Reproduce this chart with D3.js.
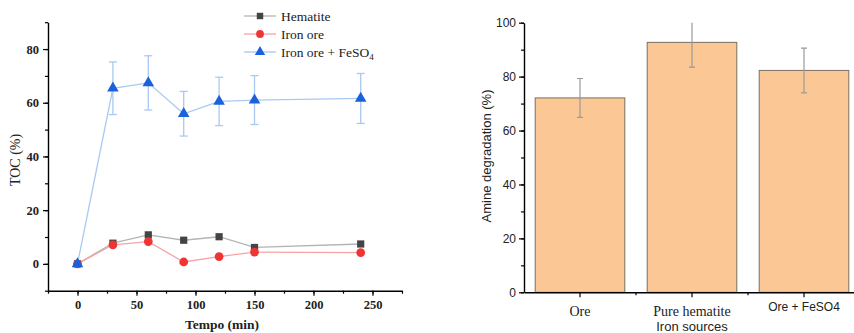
<!DOCTYPE html>
<html>
<head>
<meta charset="utf-8">
<script src="https://cdn.jsdelivr.net/npm/d3@7"></script>
<style>
  body { margin: 0; background: #fff; }
  svg { display: block; }
  .serif { font-family: 'Liberation Serif', 'Times New Roman', serif; }
  .sans { font-family: 'Liberation Sans', Arial, sans-serif; }
</style>
</head>
<body>
<div id="canvas"></div>
<script>
// data - left chart (TOC vs time)
var times = [0, 30, 60, 90, 120, 150, 240];
var hematite = [0, 7.7, 10.8, 8.8, 10.1, 6.1, 7.4];
var ironOre = [0, 7.1, 8.3, 0.7, 2.7, 4.4, 4.2];
var ironOreFeSO4 = [0, 65.4, 67.4, 55.9, 60.5, 61.0, 61.6];
var ironOreFeSO4Err = [0, 9.8, 10.1, 8.3, 9.0, 9.1, 9.3];
var tocTicks = [0, 20, 40, 60, 80];
var timeTicks = [0, 50, 100, 150, 200, 250];

// data - right chart (amine degradation)
var sources = ['Ore', 'Pure hematite', 'Ore + FeSO4'];
var degradation = [72.1, 92.7, 82.3];
var degradationErr = [7.2, 9.2, 8.3];
var degTicks = [0, 20, 40, 60, 80, 100];

var W = 854, H = 333;

var svg = d3.select('#canvas')
    .append('svg')
    .attr('width', W)
    .attr('height', H);

// ---------- left chart ----------
var x1 = d3.scaleLinear().domain([-25, 275]).range([48, 402]);
var y1 = d3.scaleLinear().domain([-10, 90]).range([290.7, 22.2]);

var left = svg.append('g');

// minor ticks
left.append('g')
    .attr('transform', 'translate(0,' + y1(-10) + ')')
    .call(d3.axisBottom(x1).tickValues(d3.range(-25, 276, 25)).tickSize(3).tickFormat(''))
    .call(g => g.select('.domain').remove());
left.append('g')
    .attr('transform', 'translate(' + x1(-25) + ',0)')
    .call(d3.axisLeft(y1).tickValues(d3.range(-10, 91, 10)).tickSize(3).tickFormat(''))
    .call(g => g.select('.domain').remove());

left.append('g')
    .attr('transform', 'translate(0,' + y1(-10) + ')')
    .call(d3.axisBottom(x1).tickValues(timeTicks).tickSize(5).tickPadding(4).tickSizeOuter(0));
left.append('g')
    .attr('transform', 'translate(' + x1(-25) + ',0)')
    .call(d3.axisLeft(y1).tickValues(tocTicks).tickSize(5).tickPadding(4).tickSizeOuter(0));

left.selectAll('g').attr('font-family', null).attr('font-size', null);
left.selectAll('.domain').attr('stroke', '#000').attr('stroke-width', 1.4);
left.selectAll('.tick line').attr('stroke', '#000').attr('stroke-width', 1.2);
left.selectAll('.tick text')
    .attr('class', 'serif')
    .attr('font-size', 12.5)
    .attr('font-weight', 'bold')
    .attr('fill', '#222');

left.append('text')
    .attr('class', 'serif')
    .attr('x', (x1(-25) + x1(275)) / 2 - 3)
    .attr('y', 329)
    .attr('text-anchor', 'middle')
    .attr('font-size', 13.5)
    .attr('font-weight', 'bold')
    .attr('fill', '#222')
    .text('Tempo (min)');

left.append('text')
    .attr('class', 'serif')
    .attr('transform', 'translate(20,160) rotate(-90)')
    .attr('text-anchor', 'middle')
    .attr('font-size', 14)
    .attr('fill', '#222')
    .text('TOC (%)');

var series = [
    {name: 'Hematite', values: hematite, err: null, line: '#b4b4b4', color: '#444444', shape: d3.symbolSquare, size: 52},
    {name: 'Iron ore', values: ironOre, err: null, line: '#f7a3a3', color: '#f03434', shape: d3.symbolCircle, size: 60},
    {name: 'Iron ore + FeSO4', values: ironOreFeSO4, err: ironOreFeSO4Err, line: '#a9c8f2', color: '#1a62dc', shape: d3.symbolTriangle, size: 58}
];

var line = d3.line()
    .x(function(d, i) { return x1(times[i]); })
    .y(function(d) { return y1(d); });

series.forEach(function(s) {
    if (s.err) {
        var eb = left.append('g');
        s.values.forEach(function(v, i) {
            if (!s.err[i]) return;
            var cx = x1(times[i]);
            eb.append('line').attr('x1', cx).attr('x2', cx)
                .attr('y1', y1(v - s.err[i])).attr('y2', y1(v + s.err[i]));
            eb.append('line').attr('x1', cx - 4).attr('x2', cx + 4)
                .attr('y1', y1(v - s.err[i])).attr('y2', y1(v - s.err[i]));
            eb.append('line').attr('x1', cx - 4).attr('x2', cx + 4)
                .attr('y1', y1(v + s.err[i])).attr('y2', y1(v + s.err[i]));
        });
        eb.selectAll('line').attr('stroke', s.line).attr('stroke-width', 1.3);
    }
    left.append('path')
        .datum(s.values)
        .attr('d', line)
        .attr('fill', 'none')
        .attr('stroke', s.line)
        .attr('stroke-width', 1.3);
});
series.forEach(function(s) {
    left.selectAll(null)
        .data(s.values)
        .enter()
        .append('path')
        .attr('transform', function(d, i) { return 'translate(' + x1(times[i]) + ',' + y1(d) + ')'; })
        .attr('d', d3.symbol().type(s.shape).size(s.size))
        .attr('fill', s.color);
});

// legend
var legend = left.append('g');
series.forEach(function(s, i) {
    var ly = 16 + i * 18;
    legend.append('line')
        .attr('x1', 244).attr('x2', 276)
        .attr('y1', ly).attr('y2', ly)
        .attr('stroke', s.line).attr('stroke-width', 1.3);
    legend.append('path')
        .attr('transform', 'translate(260,' + ly + ')')
        .attr('d', d3.symbol().type(s.shape).size(s.size * 0.8))
        .attr('fill', s.color);
    var t = legend.append('text')
        .attr('class', 'serif')
        .attr('x', 281).attr('y', ly + 4.5)
        .attr('font-size', 13.5)
        .attr('fill', '#222');
    if (s.name.indexOf('FeSO4') >= 0) {
        t.append('tspan').text('Iron ore + FeSO');
        t.append('tspan').attr('dy', 3).attr('font-size', 9).text('4');
    } else {
        t.text(s.name);
    }
});

// ---------- right chart ----------
var x2 = d3.scaleBand().domain(sources).range([524, 860]).paddingInner(0.2).paddingOuter(0.1);
var y2 = d3.scaleLinear().domain([0, 100]).range([292.3, 22.7]);

var right = svg.append('g');

right.append('clipPath').attr('id', 'clipR')
    .append('rect').attr('x', 524).attr('y', y2(100)).attr('width', 340).attr('height', y2(0) - y2(100));

right.selectAll('.bar')
    .data(sources)
    .enter()
    .append('rect')
    .attr('class', 'bar')
    .attr('x', function(d) { return x2(d); })
    .attr('y', function(d, i) { return y2(degradation[i]); })
    .attr('width', x2.bandwidth())
    .attr('height', function(d, i) { return y2(0) - y2(degradation[i]); })
    .attr('fill', '#fbc895')
    .attr('stroke', '#7a7060')
    .attr('stroke-width', 1);

var errG = right.append('g').attr('clip-path', 'url(#clipR)');
sources.forEach(function(d, i) {
    var cx = x2(d) + x2.bandwidth() / 2;
    var lo = y2(degradation[i] - degradationErr[i]);
    var hi = y2(degradation[i] + degradationErr[i]);
    errG.append('line').attr('x1', cx).attr('x2', cx).attr('y1', lo).attr('y2', hi);
    errG.append('line').attr('x1', cx - 3).attr('x2', cx + 3).attr('y1', lo).attr('y2', lo);
    errG.append('line').attr('x1', cx - 3).attr('x2', cx + 3).attr('y1', hi).attr('y2', hi);
});
errG.selectAll('line').attr('stroke', '#9a9a9a').attr('stroke-width', 1.2);

var axesR = right.append('g');
// minor ticks
axesR.append('g')
    .attr('transform', 'translate(524,0)')
    .call(d3.axisLeft(y2).tickValues(d3.range(0, 101, 10)).tickSize(3).tickFormat(''))
    .call(g => g.select('.domain').remove());
axesR.append('g')
    .attr('transform', 'translate(0,' + y2(0) + ')')
    .selectAll('line')
    .data(sources.slice(1))
    .enter()
    .append('line')
    .attr('x1', function(d) { return x2(d) - x2.step() * x2.paddingInner() / 2; })
    .attr('x2', function(d) { return x2(d) - x2.step() * x2.paddingInner() / 2; })
    .attr('y1', 0).attr('y2', 3);

axesR.append('g')
    .attr('transform', 'translate(0,' + y2(0) + ')')
    .call(d3.axisBottom(x2).tickSize(5).tickSizeOuter(0).tickFormat(''));
axesR.append('g')
    .attr('transform', 'translate(524,0)')
    .call(d3.axisLeft(y2).tickValues(degTicks).tickSize(5).tickPadding(3).tickSizeOuter(0));

axesR.selectAll('g').attr('font-family', null).attr('font-size', null);
axesR.selectAll('.domain').attr('stroke', '#000').attr('stroke-width', 1.4);
axesR.selectAll('line').attr('stroke', '#000').attr('stroke-width', 1.2);
axesR.selectAll('.tick text')
    .attr('class', 'sans')
    .attr('font-size', 12)
    .attr('fill', '#222');

// category labels (mixed fonts as in the source)
var catFont = ['serif', 'serif', 'sans'];
var catSize = [14, 14, 12];
var catY = [316, 316, 311];
sources.forEach(function(d, i) {
    right.append('text')
        .attr('class', catFont[i])
        .attr('x', x2(d) + x2.bandwidth() / 2)
        .attr('y', catY[i])
        .attr('text-anchor', 'middle')
        .attr('font-size', catSize[i])
        .attr('fill', '#222')
        .text(d);
});

right.append('text')
    .attr('class', 'sans')
    .attr('x', 692)
    .attr('y', 331)
    .attr('text-anchor', 'middle')
    .attr('font-size', 13)
    .attr('fill', '#222')
    .text('Iron sources');

right.append('text')
    .attr('class', 'sans')
    .attr('transform', 'translate(491,156) rotate(-90)')
    .attr('text-anchor', 'middle')
    .attr('font-size', 13)
    .attr('fill', '#222')
    .text('Amine degradation (%)');
</script>
</body>
</html>
